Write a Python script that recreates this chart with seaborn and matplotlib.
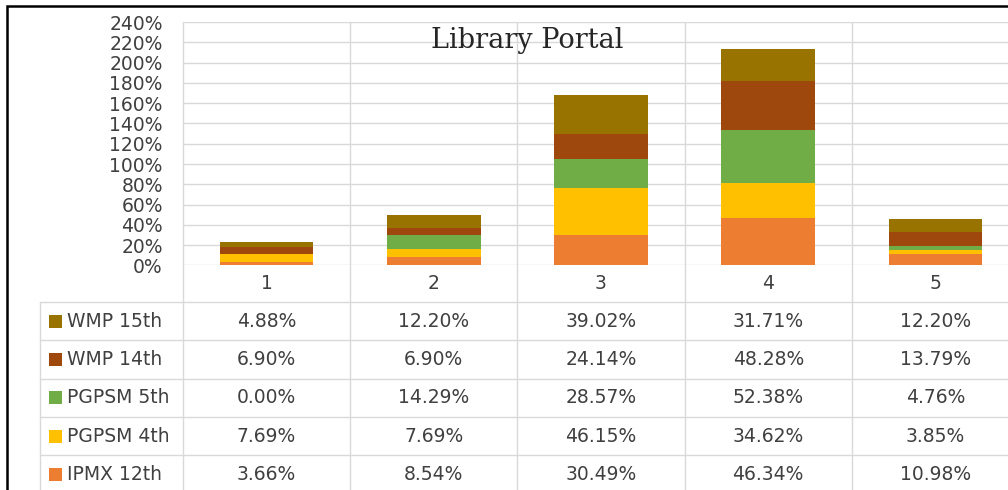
import matplotlib
matplotlib.use("Agg")
import matplotlib.pyplot as plt
import matplotlib.transforms as mtransforms
from matplotlib.patches import Rectangle
from matplotlib.lines import Line2D
import seaborn as sns
import numpy as np
import pandas as pd

# データ
categories = ["1", "2", "3", "4", "5"]
series_names = ["WMP 15th", "WMP 14th", "PGPSM 5th", "PGPSM 4th", "IPMX 12th"]
wmp_15th = [4.88, 12.20, 39.02, 31.71, 12.20]
wmp_14th = [6.90, 6.90, 24.14, 48.28, 13.79]
pgpsm_5th = [0.00, 14.29, 28.57, 52.38, 4.76]
pgpsm_4th = [7.69, 7.69, 46.15, 34.62, 3.85]
ipmx_12th = [3.66, 8.54, 30.49, 46.34, 10.98]
y_ticks = list(range(0, 241, 20))
title = "Library Portal"

colors = {
    "WMP 15th": "#997300",
    "WMP 14th": "#9E480E",
    "PGPSM 5th": "#70AD47",
    "PGPSM 4th": "#FFC000",
    "IPMX 12th": "#ED7D31",
}
grid_c = "#D9D9D9"
text_c = "#404040"

sns.set_style("white")
plt.rcParams['font.family'] = ['DejaVu Sans']

W, H = 1008, 490
fig = plt.figure(figsize=(W / 100, H / 100), dpi=100)
fig.patch.set_facecolor("white")


def fx(px):
    return px / W


def fy(py):
    return 1 - py / H


# プロット領域（右端は画像外まではみ出す）
ax = fig.add_axes([fx(183), fy(265.5), fx(1019) - fx(183), fy(22) - fy(265.5)])

# 積み上げ棒（下から順に累積）
stack_order = ["IPMX 12th", "PGPSM 4th", "PGPSM 5th", "WMP 14th", "WMP 15th"]
values = {
    "WMP 15th": wmp_15th,
    "WMP 14th": wmp_14th,
    "PGPSM 5th": pgpsm_5th,
    "PGPSM 4th": pgpsm_4th,
    "IPMX 12th": ipmx_12th,
}
cum = np.zeros(len(categories))
cum_df = {}
for name in stack_order:
    cum = cum + np.array(values[name])
    cum_df[name] = cum.copy()

for name in reversed(stack_order):
    df = pd.DataFrame({"cat": categories, "val": cum_df[name]})
    sns.barplot(data=df, x="cat", y="val", color=colors[name], saturation=1,
                width=0.56, linewidth=0, ax=ax, zorder=2)

ax.set_xlim(-0.5, 4.5)
ax.set_ylim(0, 240)
ax.set_yticks(y_ticks)
ax.set_yticklabels([f"{v}%" for v in y_ticks], fontsize=13.5, color=text_c)
ax.set_xlabel("")
ax.set_ylabel("")
ax.tick_params(axis="y", length=8, width=1, color=grid_c, pad=6.5)
ax.tick_params(axis="x", length=0, pad=6, labelsize=13.5, labelcolor=text_c)
for s in ax.spines.values():
    s.set_visible(False)
ax.yaxis.grid(True, color=grid_c, linewidth=1, zorder=0)
ax.set_axisbelow(True)

# タイトル
fig.text(fx(527), fy(48), title, ha="center", va="baseline", fontsize=19.5,
         family="DejaVu Serif", color="#262626", zorder=3)

trans = mtransforms.blended_transform_factory(ax.transData, fig.transFigure)

# 縦の区切り線（プロットからデータ表まで）
for b in np.arange(-0.5, len(categories), 1.0):
    ax.add_line(Line2D([b, b], [fy(22), fy(500)], transform=trans, color=grid_c,
                       linewidth=1, clip_on=False, zorder=0))

# データ表
row_lines = [302, 340.3, 378.6, 416.9, 455.2]
row_h = 38.3
fig.add_artist(Line2D([fx(40), fx(40)], [fy(302), fy(500)], color=grid_c, linewidth=1))
for yl in row_lines:
    fig.add_artist(Line2D([fx(40), 1.05], [fy(yl), fy(yl)], color=grid_c, linewidth=1))

for r, name in enumerate(series_names):
    yc = row_lines[0] + row_h * (r + 0.5)
    fig.add_artist(Rectangle((fx(48.5), fy(yc + 6.5)), fx(13), 13 / H,
                             facecolor=colors[name], edgecolor="none"))
    fig.text(fx(67), fy(yc), name, ha="left", va="center", fontsize=13.5, color=text_c)
    for i, v in enumerate(values[name]):
        ax.text(i, fy(yc), f"{v:.2f}%", transform=trans, ha="center", va="center",
                fontsize=13.5, color=text_c, clip_on=False)

# 外枠
fig.add_artist(Rectangle((fx(6.5), -0.1), 1.2, fy(6) + 0.1, fill=False,
                         edgecolor="black", linewidth=1.8))

fig.savefig("out.png", dpi=100, facecolor="white")
